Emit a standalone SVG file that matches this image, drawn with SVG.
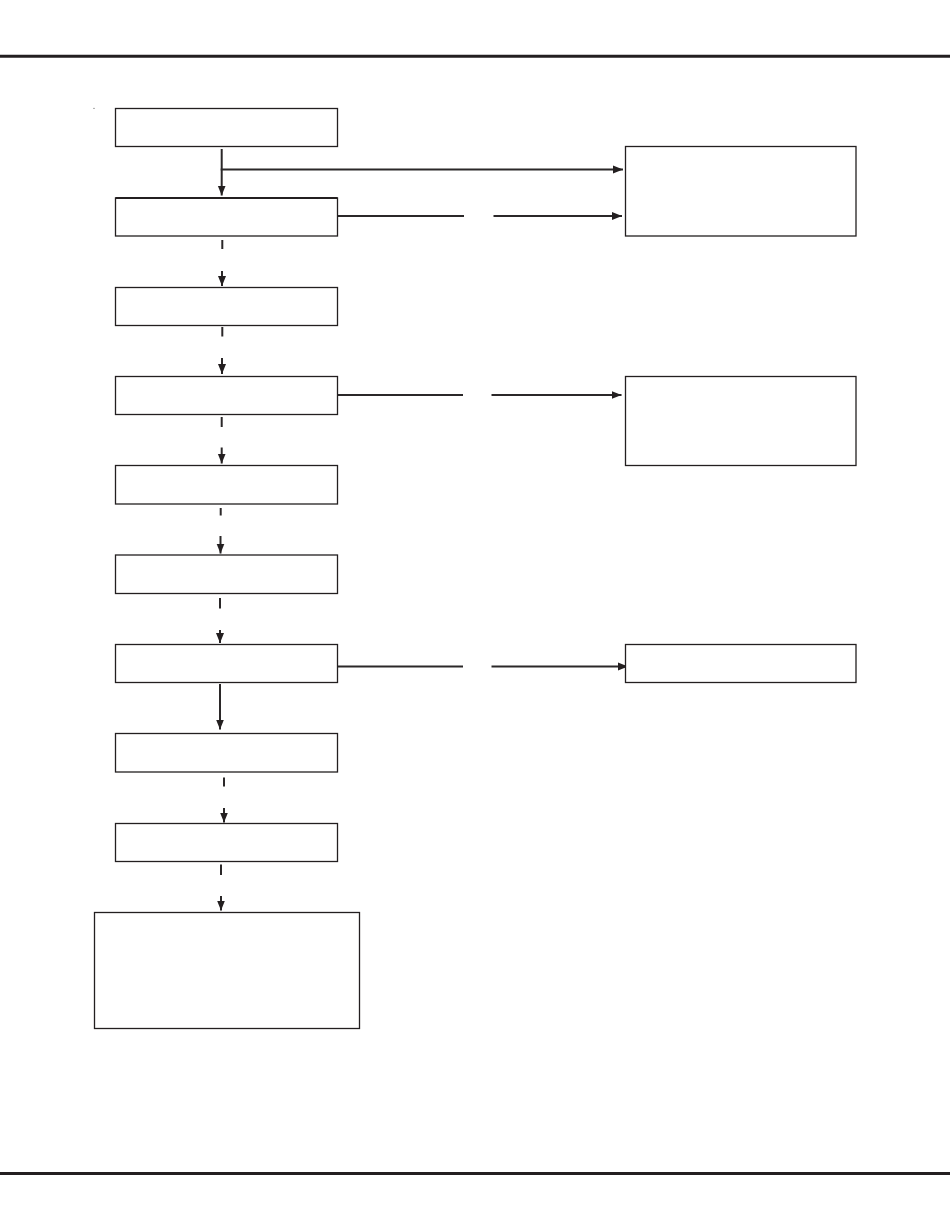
<svg xmlns="http://www.w3.org/2000/svg" width="950" height="1229" viewBox="0 0 950 1229">
<style>
.box{fill:#ffffff;stroke:#231f20;stroke-width:1.3}
.con{fill:none;stroke:#2b2829;stroke-width:2}
.rule{fill:none;stroke:#231f20;stroke-width:3}
</style>
<defs>
<marker id="ah" viewBox="0 0 10 8" refX="10" refY="4" markerWidth="10" markerHeight="8.5" markerUnits="userSpaceOnUse" orient="auto">
<path d="M0,0 L10,4 L0,8 Z" fill="#231f20"/>
</marker>
</defs>
<rect width="950" height="1229" fill="#ffffff"/>
<g id="rules">
<line class="rule" x1="0" y1="56.3" x2="950" y2="56.3"/>
<line class="rule" x1="0" y1="1173.5" x2="950" y2="1173.5"/>
<circle cx="94" cy="108.3" r="0.6" fill="#555"/>
</g>
<g id="connectors">
<line class="con" x1="221.7" y1="149" x2="221.7" y2="195.5" marker-end="url(#ah)"/>
<line class="con" x1="220.7" y1="169.5" x2="623" y2="169.5" marker-end="url(#ah)"/>
<line class="con" x1="337.5" y1="216" x2="464" y2="216"/>
<line class="con" x1="493.5" y1="216" x2="622" y2="216" marker-end="url(#ah)"/>
<line class="con" x1="222.3" y1="240" x2="222.3" y2="249"/>
<line class="con" x1="222" y1="271" x2="222" y2="286" marker-end="url(#ah)"/>
<line class="con" x1="222.3" y1="327" x2="222.3" y2="336.5"/>
<line class="con" x1="222" y1="358" x2="222" y2="374" marker-end="url(#ah)"/>
<line class="con" x1="336" y1="395" x2="463" y2="395"/>
<line class="con" x1="491.5" y1="395" x2="621.5" y2="395" marker-end="url(#ah)"/>
<line class="con" x1="221.7" y1="417" x2="221.7" y2="427"/>
<line class="con" x1="221.7" y1="447.5" x2="221.7" y2="463.5" marker-end="url(#ah)"/>
<line class="con" x1="220.7" y1="508" x2="220.7" y2="515.5"/>
<line class="con" x1="220.5" y1="536" x2="220.5" y2="553.5" marker-end="url(#ah)"/>
<line class="con" x1="220" y1="598" x2="220" y2="608.5"/>
<line class="con" x1="220" y1="630" x2="220" y2="643" marker-end="url(#ah)"/>
<line class="con" x1="337.5" y1="666.5" x2="463" y2="666.5"/>
<line class="con" x1="491.5" y1="666.5" x2="628" y2="666.5" marker-end="url(#ah)"/>
<line class="con" x1="220" y1="684" x2="220" y2="729.5" marker-end="url(#ah)"/>
<line class="con" x1="224" y1="777.5" x2="224" y2="786.5"/>
<line class="con" x1="224" y1="808" x2="224" y2="822.5" marker-end="url(#ah)"/>
<line class="con" x1="221" y1="864.5" x2="221" y2="875"/>
<line class="con" x1="221" y1="896" x2="221" y2="910.5" marker-end="url(#ah)"/>
</g>
<g id="node1"><rect class="box" x="115.5" y="108.5" width="222" height="38"/></g>
<g id="node2"><rect class="box" x="115.5" y="198" width="222" height="38"/><line x1="115.5" y1="198" x2="337.5" y2="198" stroke="#231f20" stroke-width="2.2"/></g>
<g id="node3"><rect class="box" x="115.5" y="287.5" width="222" height="38"/></g>
<g id="node4"><rect class="box" x="115.5" y="376.5" width="222" height="38"/></g>
<g id="node5"><rect class="box" x="115.5" y="465.5" width="222" height="38.5"/></g>
<g id="node6"><rect class="box" x="115.5" y="555" width="222" height="38.5"/></g>
<g id="node7"><rect class="box" x="115.5" y="644.5" width="222" height="38"/></g>
<g id="node8"><rect class="box" x="115.5" y="733.5" width="222" height="38.5"/></g>
<g id="node9"><rect class="box" x="115.5" y="823.5" width="222" height="38"/></g>
<g id="node10"><rect class="box" x="94.5" y="912.5" width="265" height="116"/></g>
<g id="nodeR1"><rect class="box" x="625.5" y="146.5" width="230.5" height="89.5"/></g>
<g id="nodeR2"><rect class="box" x="625.5" y="376.5" width="230.5" height="89"/></g>
<g id="nodeR3"><rect class="box" x="625.5" y="644.5" width="230.5" height="38"/></g>
</svg>
